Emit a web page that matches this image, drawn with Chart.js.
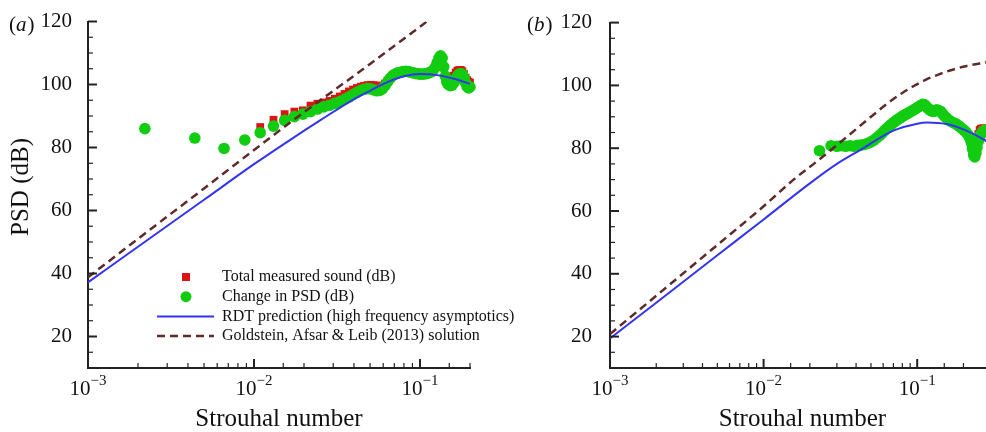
<!DOCTYPE html>
<html>
<head>
<meta charset="utf-8">
<script src="https://cdn.jsdelivr.net/npm/chart.js@4.4.0/dist/chart.umd.min.js"></script>
<style>
html, body { margin: 0; padding: 0; width: 986px; height: 432px; overflow: hidden; background: #fff; }
#panelA { position: absolute; left: 0; top: 0; }
#panelB { position: absolute; left: 500px; top: 0; }
</style>
</head>
<body>
<canvas id="panelA" width="540" height="432"></canvas>
<canvas id="panelB" width="600" height="432"></canvas>
<script>
const SERIF = '"Liberation Serif", "DejaVu Serif", serif';

//Panel (a) - measured spectra
const stA = [0.0022, 0.0044, 0.0066, 0.0088, 0.0109, 0.0131, 0.0153, 0.0175, 0.0197, 0.0219,
    0.0241, 0.0263, 0.0285, 0.0307, 0.0329, 0.0351, 0.0373, 0.0395, 0.0417, 0.0439,
    0.0461, 0.0483, 0.0505, 0.0527, 0.0549, 0.0571, 0.0593, 0.0615, 0.0637, 0.0659,
    0.0681, 0.0703, 0.0730, 0.0760, 0.0790, 0.0820, 0.0850, 0.0880, 0.0910, 0.0940,
    0.0970, 0.1000, 0.1040, 0.1080, 0.1120, 0.1160, 0.1200, 0.1240, 0.1270, 0.1300,
    0.1330, 0.1360, 0.1390, 0.1420, 0.1450, 0.1480, 0.1520, 0.1560, 0.1600, 0.1640,
    0.1680, 0.1720, 0.1760, 0.1800, 0.1840, 0.1880, 0.1920, 0.1960, 0.2000];
const totalA = [86.0, 83.0, 79.7, 82.4, 86.5, 88.8, 90.6, 91.4, 91.8, 93.3,
    93.9, 94.3, 94.8, 95.5, 96.2, 97.0, 97.8, 98.4, 98.9, 99.3,
    99.6, 99.8, 99.9, 99.8, 99.6, 99.5, 99.7, 100.3, 101.2, 102.1,
    102.8, 103.3, 103.8, 104.1, 104.3, 104.4, 104.3, 104.1, 103.9, 103.7,
    103.6, 103.5, 103.5, 103.6, 103.8, 104.1, 104.6, 105.6, 106.8, 108.0,
    108.6, 107.9, 105.4, 102.8, 101.4, 101.0, 101.2, 101.8, 102.8, 103.8,
    104.4, 104.6, 104.6, 104.2, 103.3, 102.2, 101.4, 100.9, 100.6];
const changeA = [86.0, 83.0, 79.7, 82.4, 84.7, 86.8, 88.6, 89.8, 90.6, 91.4,
    92.2, 92.9, 93.4, 94.0, 94.6, 95.3, 96.0, 96.8, 97.5, 98.1,
    98.5, 98.7, 98.6, 98.3, 98.0, 98.1, 98.6, 99.6, 100.8, 101.9,
    102.7, 103.2, 103.6, 103.9, 104.1, 104.2, 104.1, 103.9, 103.7, 103.5,
    103.4, 103.3, 103.3, 103.4, 103.6, 103.9, 104.5, 105.6, 107.0, 108.4,
    109.1, 108.4, 105.6, 102.6, 100.8, 100.0, 99.6, 99.8, 100.6, 101.7,
    102.7, 103.3, 103.5, 103.2, 102.1, 100.6, 99.4, 98.9, 99.2];
//Panel (a) - predictions
const rdtStA = [0.001, 0.002, 0.005, 0.01, 0.0167, 0.025, 0.0387, 0.05, 0.065, 0.08, 0.1, 0.13, 0.16, 0.2];
const rdtA = [37.2, 48.5, 63.4, 74.7, 82.6, 88.6, 94.9, 98.0, 101.0, 102.6, 103.3, 102.9, 101.8, 100.2];
const gflStA = [0.001, 0.002, 0.005, 0.01, 0.02, 0.05, 0.11];
const gflA = [38.8, 51.0, 67.0, 79.2, 91.2, 106.5, 120.0];

//Panel (b) - measured spectra
const stB = [0.0231, 0.0275, 0.0300, 0.0320, 0.0342, 0.0365, 0.0388, 0.0410, 0.0432, 0.0455,
    0.0478, 0.0500, 0.0522, 0.0545, 0.0568, 0.0590, 0.0612, 0.0635, 0.0658, 0.0680,
    0.0703, 0.0725, 0.0748, 0.0770, 0.0793, 0.0815, 0.0838, 0.0860, 0.0885, 0.0910,
    0.0940, 0.0970, 0.1000, 0.1030, 0.1060, 0.1090, 0.1120, 0.1150, 0.1180, 0.1220,
    0.1260, 0.1300, 0.1340, 0.1380, 0.1420, 0.1460, 0.1500, 0.1550, 0.1600, 0.1660,
    0.1720, 0.1780, 0.1840, 0.1900, 0.1960, 0.2020, 0.2080, 0.2140, 0.2200, 0.2250,
    0.2290, 0.2330, 0.2370, 0.2410, 0.2450, 0.2500, 0.2550, 0.2600, 0.2660, 0.2720,
    0.2780, 0.2850];
const totalB = [79.2, 80.8, 80.6, 80.8, 80.6, 80.8, 80.6, 80.9, 81.0, 81.2,
    81.6, 82.0, 82.6, 83.3, 84.0, 84.8, 85.6, 86.3, 87.0, 87.6,
    88.2, 88.7, 89.2, 89.6, 90.0, 90.4, 90.7, 91.0, 91.3, 91.7,
    92.1, 92.5, 92.9, 93.3, 93.7, 94.0, 93.8, 93.2, 92.6, 92.0,
    91.7, 91.8, 92.2, 92.0, 91.7, 91.0, 90.3, 89.7, 89.0, 88.5,
    88.1, 87.8, 87.3, 86.8, 86.2, 85.7, 85.1, 84.3, 83.2, 81.8,
    79.8, 77.8, 77.4, 78.8, 81.5, 84.5, 85.8, 86.2, 86.3, 86.3,
    86.2, 86.0];
const changeB = [79.2, 80.8, 80.6, 80.8, 80.6, 80.8, 80.6, 80.9, 81.0, 81.2,
    81.6, 82.0, 82.6, 83.3, 84.0, 84.8, 85.6, 86.3, 87.0, 87.6,
    88.2, 88.7, 89.2, 89.6, 90.0, 90.4, 90.7, 91.0, 91.3, 91.7,
    92.1, 92.5, 92.9, 93.3, 93.7, 94.0, 93.8, 93.2, 92.6, 92.0,
    91.7, 91.8, 92.2, 92.0, 91.7, 91.0, 90.3, 89.7, 89.0, 88.5,
    88.1, 87.8, 87.3, 86.8, 86.2, 85.7, 85.1, 84.3, 83.2, 81.8,
    79.8, 77.8, 77.2, 78.4, 80.2, 82.2, 83.6, 84.5, 85.2, 85.6,
    85.8, 85.8];
//Panel (b) - predictions
const rdtStB = [0.001, 0.002, 0.005, 0.01, 0.02, 0.03, 0.0425, 0.07, 0.1, 0.1156, 0.155, 0.209, 0.279, 0.32];
const rdtB = [19.4, 30.8, 45.9, 57.3, 68.8, 75.0, 79.4, 85.6, 87.8, 88.2, 87.7, 85.6, 82.4, 80.4];
const gflStB = [0.001, 0.002, 0.005, 0.01, 0.0156, 0.0225, 0.0348, 0.05, 0.065, 0.08, 0.095, 0.115, 0.14, 0.17, 0.21, 0.27, 0.32];
const gflB = [20.8, 33.0, 49.2, 61.5, 69.9, 76.0, 83.6, 90.0, 94.5, 97.6, 99.8, 101.9, 103.6, 105.0, 106.2, 107.2, 107.8];

//Axis labels
const yLabels = [20, 40, 60, 80, 100, 120];
const xDecades = [0.001, 0.01, 0.1];
const seriesNames = ['Total measured sound (dB)', 'Change in PSD (dB)',
    'RDT prediction (high frequency asymptotics)', 'Goldstein, Afsar & Leib (2013) solution'];

function toPoints(xs, ys) {
    return xs.map((x, i) => ({x: x, y: ys[i]}));
}

function buildDatasets(st, total, change, rdtSt, rdt, gflSt, gfl) {
    return [
        {
            label: seriesNames[0], data: toPoints(st, total), showLine: false,
            pointStyle: 'rect', pointRadius: 5.5, pointHoverRadius: 5.5, pointBorderWidth: 0,
            backgroundColor: '#dd1414', borderColor: '#dd1414', order: 4, clip: false
        },
        {
            label: seriesNames[1], data: toPoints(st, change), showLine: false,
            pointStyle: 'circle', pointRadius: 5.8, pointHoverRadius: 5.8, pointBorderWidth: 0,
            backgroundColor: '#12cc12', borderColor: '#12cc12', order: 3, clip: false
        },
        {
            label: seriesNames[2], data: toPoints(rdtSt, rdt), showLine: true, fill: false,
            borderColor: '#3434f4', borderWidth: 2, pointRadius: 0, pointHoverRadius: 0,
            tension: 0.4, cubicInterpolationMode: 'monotone', order: 2
        },
        {
            label: seriesNames[3], data: toPoints(gflSt, gfl), showLine: true, fill: false,
            borderColor: '#5e2a2a', borderWidth: 2.5, borderDash: [8, 5], pointRadius: 0, pointHoverRadius: 0,
            tension: 0.4, cubicInterpolationMode: 'monotone', order: 1
        }
    ];
}

//ticks drawn inwards + decade labels 10^n
const inwardTicks = {
    id: 'inwardTicks',
    afterDraw(chart) {
        let ctx = chart.ctx;
        let area = chart.chartArea;
        let xs = chart.scales.x;
        let ys = chart.scales.y;
        ctx.save();
        ctx.strokeStyle = '#222';
        ys.ticks.forEach(t => {
            let major = yLabels.includes(t.value);
            let py = ys.getPixelForValue(t.value);
            ctx.lineWidth = major ? 2 : 1.2;
            ctx.beginPath();
            ctx.moveTo(area.left, py);
            ctx.lineTo(area.left + (major ? 9 : 5), py);
            ctx.stroke();
        });
        xs.ticks.forEach(t => {
            let e = Math.log10(t.value);
            let major = Math.abs(e - Math.round(e)) < 1e-6;
            let px = xs.getPixelForValue(t.value);
            ctx.lineWidth = major ? 2 : 1.2;
            ctx.beginPath();
            ctx.moveTo(px, area.bottom);
            ctx.lineTo(px, area.bottom - (major ? 9 : 5));
            ctx.stroke();
        });
        ctx.fillStyle = '#111';
        ctx.textBaseline = 'alphabetic';
        ctx.textAlign = 'left';
        xDecades.forEach(d => {
            if (d < xs.min || d > xs.max) return;
            let px = xs.getPixelForValue(d);
            let base = '10';
            let sup = '\u2212' + Math.abs(Math.round(Math.log10(d)));
            ctx.font = '21px ' + SERIF;
            let wb = ctx.measureText(base).width;
            ctx.font = '15px ' + SERIF;
            let ws = ctx.measureText(sup).width;
            let x0 = px - (wb + ws) / 2;
            ctx.font = '21px ' + SERIF;
            ctx.fillText(base, x0, area.bottom + 27);
            ctx.font = '15px ' + SERIF;
            ctx.fillText(sup, x0 + wb, area.bottom + 17);
        });
        ctx.restore();
    }
};

//panel letter and y title
const panelText = {
    id: 'panelText',
    afterDraw(chart, args, opts) {
        let ctx = chart.ctx;
        ctx.save();
        ctx.fillStyle = '#111';
        ctx.textBaseline = 'alphabetic';
        ctx.textAlign = 'left';
        let x = opts.tagX;
        ctx.font = '21px ' + SERIF;
        ctx.fillText('(', x, 31);
        x += ctx.measureText('(').width;
        ctx.font = 'italic 21px ' + SERIF;
        ctx.fillText(opts.tag, x, 31);
        x += ctx.measureText(opts.tag).width + 1;
        ctx.font = '21px ' + SERIF;
        ctx.fillText(')', x, 31);
        if (opts.yTitle) {
            ctx.translate(28, 187);
            ctx.rotate(-Math.PI / 2);
            ctx.textAlign = 'center';
            ctx.font = '25px ' + SERIF;
            ctx.fillText(opts.yTitle, 0, 0);
        }
        ctx.restore();
    }
};

//legend placed inside panel (a)
const innerLegend = {
    id: 'innerLegend',
    afterDraw(chart, args, opts) {
        if (!opts.show) return;
        let ctx = chart.ctx;
        ctx.save();
        ctx.textBaseline = 'middle';
        ctx.textAlign = 'left';
        chart.data.datasets.forEach((ds, i) => {
            let y = opts.top + i * opts.gap;
            let cx = opts.left + 29;
            if (ds.showLine) {
                ctx.strokeStyle = ds.borderColor;
                ctx.lineWidth = ds.borderWidth;
                ctx.setLineDash(ds.borderDash || []);
                ctx.beginPath();
                ctx.moveTo(opts.left, y);
                ctx.lineTo(opts.left + 57, y);
                ctx.stroke();
                ctx.setLineDash([]);
            } else if (ds.pointStyle === 'rect') {
                ctx.fillStyle = ds.backgroundColor;
                ctx.fillRect(cx - 4, y - 4, 8, 8);
            } else {
                ctx.fillStyle = ds.backgroundColor;
                ctx.beginPath();
                ctx.arc(cx, y, 5.5, 0, 2 * Math.PI);
                ctx.fill();
            }
            ctx.fillStyle = '#111';
            ctx.font = '16px ' + SERIF;
            ctx.fillText(ds.label, opts.left + 65, y);
        });
        ctx.restore();
    }
};

function buildOptions(xMax, yWidth, tickPad, padRight, tag, tagX, yTitle, legend) {
    return {
        responsive: false,
        animation: false,
        devicePixelRatio: 1,
        layout: {padding: {top: 21.5, right: padRight, bottom: 0, left: 0}},
        plugins: {
            legend: {display: false},
            tooltip: {enabled: false},
            panelText: {tag: tag, tagX: tagX, yTitle: yTitle},
            innerLegend: {show: legend, left: 157, top: 277, gap: 19.7}
        },
        scales: {
            x: {
                type: 'logarithmic',
                min: 0.001,
                max: xMax,
                grid: {display: false},
                border: {display: true, color: '#222', width: 2},
                ticks: {display: false, autoSkip: false},
                title: {
                    display: true,
                    text: 'Strouhal number',
                    color: '#111',
                    font: {family: SERIF, size: 25, lineHeight: 1},
                    padding: 0
                },
                afterFit: function (s) { s.height = 64; }
            },
            y: {
                type: 'linear',
                min: 10,
                max: 120,
                grid: {display: false},
                border: {display: true, color: '#222', width: 2},
                ticks: {
                    stepSize: 5,
                    maxTicksLimit: 40,
                    autoSkip: false,
                    padding: tickPad,
                    color: '#111',
                    font: {family: SERIF, size: 21},
                    callback: function (v) { return yLabels.includes(v) ? String(v) : ''; }
                },
                afterFit: function (s) { s.width = yWidth; }
            }
        }
    };
}

function createCharts() {
    new Chart(document.getElementById('panelA'), {
        type: 'scatter',
        data: {datasets: buildDatasets(stA, totalA, changeA, rdtStA, rdtA, gflStA, gflA)},
        options: buildOptions(0.2, 88, 8, 70, 'a', 9, 'PSD (dB)', true),
        plugins: [inwardTicks, panelText, innerLegend]
    });
    new Chart(document.getElementById('panelB'), {
        type: 'scatter',
        data: {datasets: buildDatasets(stB, totalB, changeB, rdtStB, rdtB, gflStB, gflB)},
        options: buildOptions(0.32, 110, 10, 105.2, 'b', 27, null, false),
        plugins: [inwardTicks, panelText, innerLegend]
    });
}

createCharts();
</script>
</body>
</html>
